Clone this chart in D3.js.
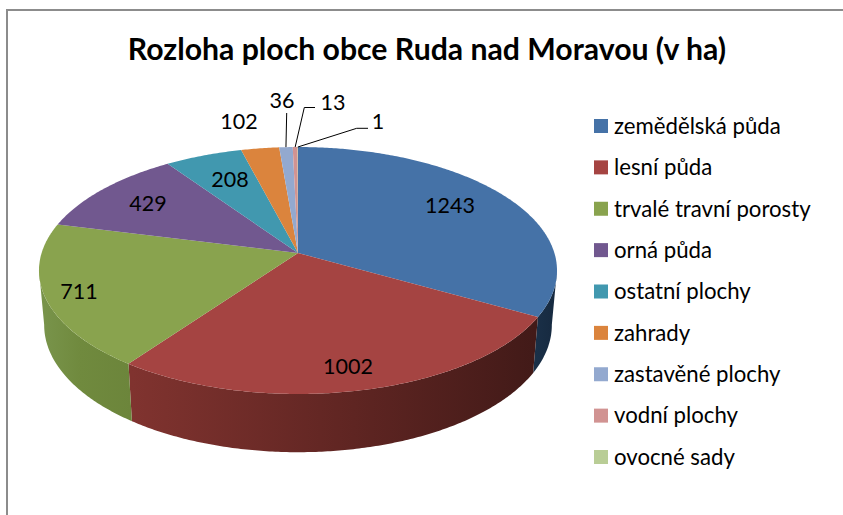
<!DOCTYPE html>
<html>
<head>
<meta charset="utf-8">
<script src="https://cdn.jsdelivr.net/npm/d3@7"></script>
<style>
  html, body { margin: 0; padding: 0; background: #fff; }
  svg { display: block; }
  text { font-family: Lato, sans-serif; fill: #000; }
</style>
</head>
<body>
<script>
const categories = ["zemědělská půda", "lesní půda", "trvalé travní porosty", "orná půda",
  "ostatní plochy", "zahrady", "zastavěné plochy", "vodní plochy", "ovocné sady"];
const areas = [1243, 1002, 711, 429, 208, 102, 36, 13, 1];
const colors = ["#4572a7", "#a54442", "#89a34e", "#71588f", "#4198af", "#db843d", "#93a9cf", "#d19392", "#b9cd96"];
const chartTitle = "Rozloha ploch obce Ruda nad Moravou (v ha)";

const width = 843, height = 515;

// where Excel put the value labels
const labelPos = [[450, 205], [348, 366], [79, 291], [148, 203], [230, 179], [239, 121], [282, 100], [333, 102], [378, 121]];
// leader line ends for the three smallest slices
const leaders = {
  6: [[286.7, 113]],
  7: [[304.3, 107.5], [315, 107.5]],
  8: [[356.7, 128.3], [368, 128.3]]
};

const svg = d3.select("body").append("svg")
  .attr("width", width)
  .attr("height", height);

// chart frame
svg.append("path")
  .attr("d", "M7,515V10H843")
  .attr("fill", "none")
  .attr("stroke", "#8c8c8c")
  .attr("stroke-width", 2);

svg.append("text")
  .attr("x", 427)
  .attr("y", 60)
  .attr("text-anchor", "middle")
  .attr("font-size", 30.2)
  .attr("font-weight", "bold")
  .text(chartTitle);

const pie = d3.pie().sort(null).value(function(d) { return d; });
const slices = pie(areas);

// perspective tilt, the circle centre does not land on the middle of the ellipse
const cx = 298, cy = 253;
const k = 0.1417, a = 121, b = 256.4;
function project(angle, r) {
  const s = Math.sin(angle) * r, c = -Math.cos(angle) * r;
  return [b * s / (1 - k * c), a * c / (1 - k * c)];
}
function topPoint(angle) {
  const p = project(angle, 1);
  return [cx + p[0], cy + p[1]];
}
function bottomPoint(angle) {
  const p = project(angle, 1);
  return [cx + p[0] * 0.98, 307 + p[1] * 1.03];
}

function arcAngles(a0, a1) {
  const n = Math.max(2, Math.ceil((a1 - a0) / 0.01));
  return d3.range(n + 1).map(function(i) { return a0 + (a1 - a0) * i / n; });
}
const line = d3.line();

// side wall, only the part facing the viewer
const wallStart = 98 * Math.PI / 180, wallEnd = 262 * Math.PI / 180;
const wallStops = [
  [[0, "#1a3048"], [1, "#16293f"]],
  [[0, "#421a18"], [0.45, "#5f2522"], [1, "#80332f"]],
  [[0, "#6c853b"], [0.6, "#708a3e"], [1, "#78934a"]]
];
const defs = svg.append("defs");
wallStops.forEach(function(stops, i) {
  const grad = defs.append("linearGradient")
    .attr("id", "wall" + i)
    .attr("gradientUnits", "userSpaceOnUse")
    .attr("x1", i == 2 ? 132 : 535).attr("y1", 0)
    .attr("x2", i == 2 ? 45 : (i == 1 ? 132 : 557)).attr("y2", 0);
  stops.forEach(function(st) {
    grad.append("stop").attr("offset", st[0]).attr("stop-color", st[1]);
  });
});

slices.forEach(function(d, i) {
  const a0 = Math.max(d.startAngle, wallStart), a1 = Math.min(d.endAngle, wallEnd);
  if (a1 <= a0) return;
  const angles = arcAngles(a0, a1);
  const pts = angles.map(topPoint).concat(angles.slice().reverse().map(bottomPoint));
  svg.append("path")
    .attr("d", line(pts) + "Z")
    .attr("fill", "url(#wall" + i + ")");
});

// top face
svg.append("g").selectAll("path")
  .data(slices)
  .enter()
  .append("path")
  .attr("d", function(d) {
    const pts = [[cx, cy]].concat(arcAngles(d.startAngle, d.endAngle).map(topPoint));
    return line(pts) + "Z";
  })
  .attr("fill", function(d, i) { return colors[i]; });

// leader lines
Object.keys(leaders).forEach(function(i) {
  const mid = (slices[i].startAngle + slices[i].endAngle) / 2;
  svg.append("path")
    .attr("d", line([topPoint(mid)].concat(leaders[i])))
    .attr("fill", "none")
    .attr("stroke", "#000")
    .attr("stroke-width", 1);
});

svg.append("g").selectAll("text")
  .data(areas)
  .enter()
  .append("text")
  .attr("x", function(d, i) { return labelPos[i][0]; })
  .attr("y", function(d, i) { return labelPos[i][1]; })
  .attr("dy", ".35em")
  .attr("text-anchor", "middle")
  .attr("font-size", 21.5)
  .text(function(d) { return d; });

// legend
const legendY = d3.scaleLinear().domain([0, categories.length - 1]).range([126, 457]);
const legend = svg.selectAll(".legend")
  .data(categories)
  .enter()
  .append("g")
  .attr("class", "legend")
  .attr("transform", function(d, i) { return "translate(594," + legendY(i) + ")"; });

legend.append("rect")
  .attr("y", -7)
  .attr("width", 14)
  .attr("height", 14)
  .attr("fill", function(d, i) { return colors[i]; });

legend.append("text")
  .attr("x", 20)
  .attr("dy", ".35em")
  .attr("font-size", 22.2)
  .text(function(d) { return d; });
</script>
</body>
</html>
